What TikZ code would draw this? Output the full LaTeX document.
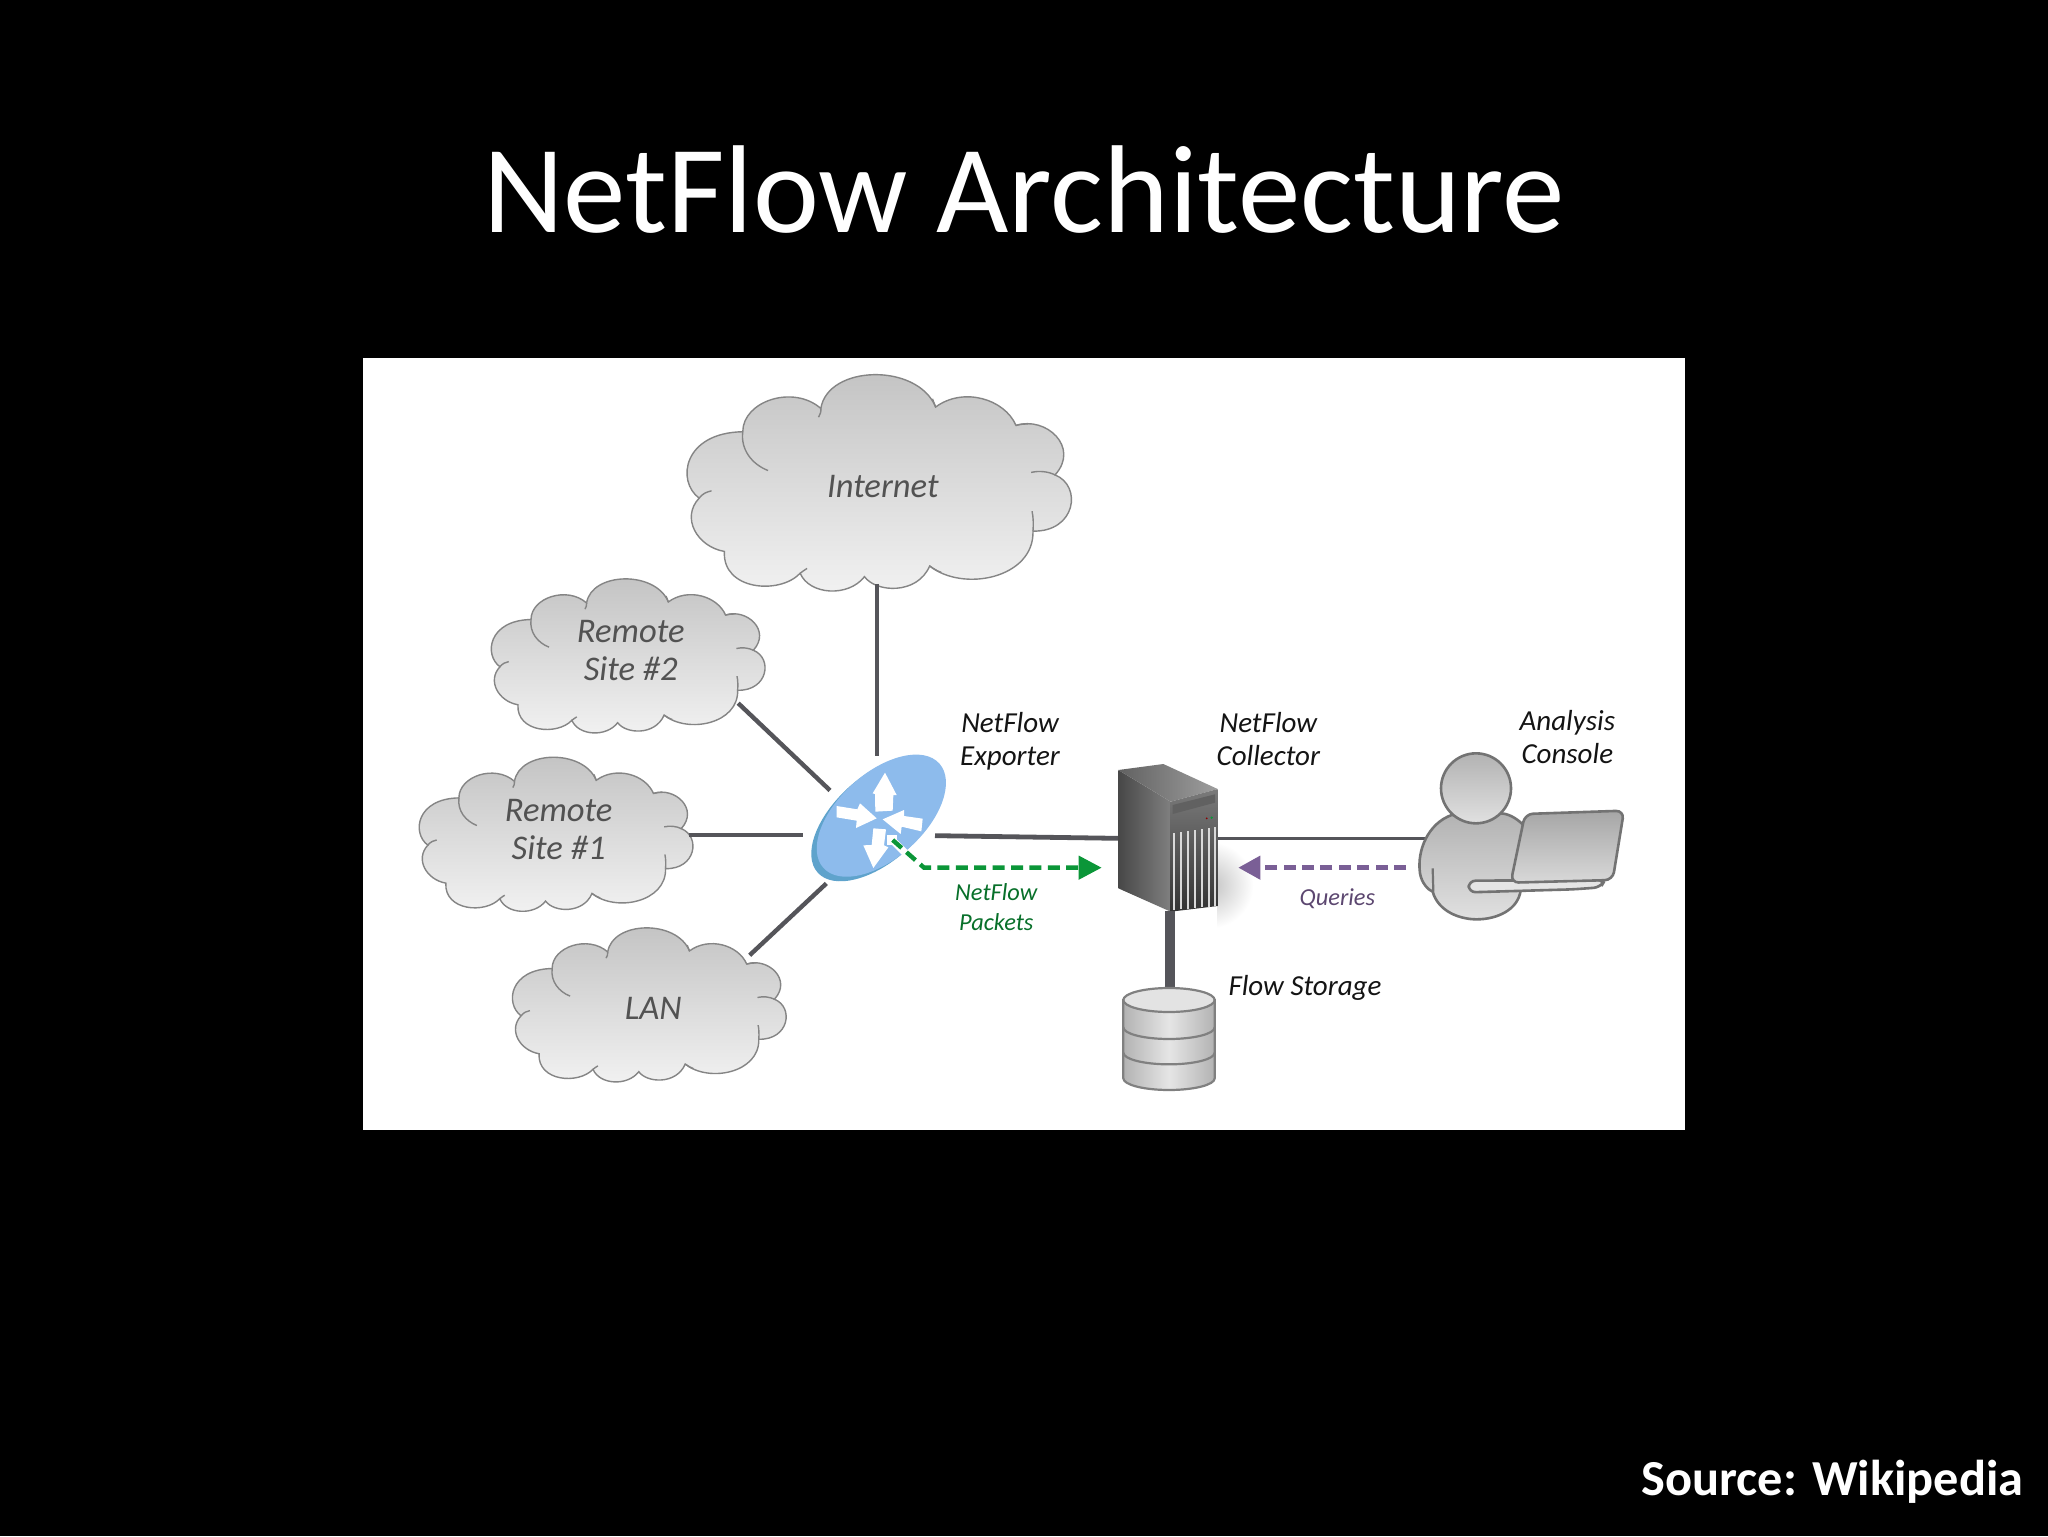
\documentclass[tikz,border=0pt]{standalone}
\usepackage{fontspec}
\setmainfont{Carlito}
\usetikzlibrary{arrows.meta}
\definecolor{conn}{HTML}{55555A}
\definecolor{greenflow}{HTML}{0B9638}
\definecolor{purpleflow}{HTML}{7A5F96}
\definecolor{routerblue}{HTML}{8DBBEC}
\definecolor{routerdark}{HTML}{5FA3CC}
\tikzset{
  x=0.5pt,y=-0.5pt,
  link/.style={draw=conn,line width=2.2pt},
  cloudfill/.style={draw=black!48,line width=0.7pt,top color=black!24,bottom color=black!5},
  cloudline/.style={draw=black!48,line width=0.7pt},
  cloudtext/.style={font=\fontsize{17.3}{19}\selectfont\itshape,text=black!68,align=center,inner sep=0pt},
  devtext/.style={font=\fontsize{14.5}{16.4}\selectfont\itshape,text=black!92,align=center,inner sep=0pt},
  flowtext/.style={font=\fontsize{12.2}{15}\selectfont\itshape,align=center,inner sep=0pt},
  routerarrow/.style={fill=white,draw=none},
  greydev/.style={draw=black!55,line width=1.3pt,top color=black!30,bottom color=black!12},
}
\newcommand{\cloudshape}[3]{%
\begin{scope}[shift={(#1,#2)},scale=#3,shift={(-668,-28)}]
\path[cloudfill] (790,148)
 .. controls (790,85) and (900,50) .. (960,100)
 .. controls (975,10) and (1170,5) .. (1210,97)
 .. controls (1270,55) and (1360,80) .. (1385,135)
 .. controls (1450,115) and (1525,180) .. (1470,237)
 .. controls (1530,260) and (1515,355) .. (1422,353)
 .. controls (1425,450) and (1270,480) .. (1197,425)
 .. controls (1170,485) and (1080,480) .. (1055,447)
 .. controls (1020,490) and (935,485) .. (915,440)
 .. controls (870,485) and (745,475) .. (750,395)
 .. controls (690,385) and (655,325) .. (695,285)
 .. controls (645,250) and (660,150) .. (790,148) -- cycle;
\draw[cloudline] (790,148) .. controls (785,185) and (810,215) .. (845,228);
\draw[cloudline] (695,285) .. controls (703,275) and (712,272) .. (722,270);
\draw[cloudline] (1470,237) .. controls (1455,230) and (1435,228) .. (1418,232);
\draw[cloudline] (1385,135) .. controls (1395,132) and (1405,132) .. (1412,132);
\draw[cloudline] (1422,353) .. controls (1423,340) and (1423,325) .. (1420,312);
\draw[cloudline] (915,440) .. controls (920,436) and (925,433) .. (930,430);
\draw[cloudline] (1197,425) .. controls (1205,430) and (1212,435) .. (1222,438);
\draw[cloudline] (960,100) .. controls (961,108) and (958,112) .. (955,118);
\draw[cloudline] (1210,97) .. controls (1208,92) and (1205,85) .. (1203,80);
\end{scope}}
\begin{document}
\begin{tikzpicture}
\useasboundingbox (0,0) rectangle (2048,1536);
\fill[black] (0,0) rectangle (2048,1536);
\node[anchor=base,text=white,inner sep=0pt,font=\fontsize{62.5}{70}\selectfont] (title) at (1024,232) {NetFlow Architecture};
\node[anchor=base east,text=white,inner sep=0pt,font=\fontsize{25.2}{28}\selectfont\bfseries] (source) at (2024,1495) {Source: Wikipedia};
\fill[white] (363,358) rectangle (1685,1130);

% zoom-1 frame: clouds and router links
\begin{scope}[shift={(380,360)},xscale=0.4592,yscale=0.4847]
\cloudshape{668}{28}{1}
\cloudshape{242}{450}{.712}
\cloudshape{85}{818}{.712}
\cloudshape{288}{1170}{.712}
\node[cloudtext] (internet) at (1095,262) {Internet};
\node[cloudtext] (site2) at (546,599) {Remote\\Site \#2};
\node[cloudtext] (site1) at (389,969) {Remote\\Site \#1};
\node[cloudtext] (lan) at (595,1338) {LAN};
\coordinate (inetend) at (1082,462);
\coordinate (rtop) at (1082,818);
\coordinate (s2end) at (780,708);
\coordinate (rul) at (980,888);
\coordinate (s1end) at (672,980);
\coordinate (rl) at (922,980);
\coordinate (lanend) at (805,1228);
\coordinate (rll) at (972,1080);
\node[devtext] (exporter) at (1372,786) {NetFlow\\Exporter};
\node[flowtext,text=greenflow!75!black] (packets) at (1342,1129) {NetFlow\\Packets};
\end{scope}

\draw[link] (inetend) -- (rtop);
\draw[link] (s2end) -- (rul);
\draw[link] (s1end) -- (rl);
\draw[link] (lanend) -- (rll);

% zoom-2 frame: router, server, storage
\begin{scope}[shift={(780,690)},scale=1/3]
% router
\fill[routerdark] (293,386) ellipse[x radius=242,y radius=128,rotate=42];
\fill[routerblue] (304,377) ellipse[x radius=234,y radius=128,rotate=42];
\node[inner sep=0pt,minimum size=0pt] (router) at (295,385) {};
% arrows in router
\fill[routerarrow] (286,365) -- (285,312) -- (278,310) -- (315,248) -- (350,315) -- (340,315) -- (338,362) -- cycle;
\fill[routerarrow] (170,348) -- (232,358) -- (240,340) -- (290,385) -- (228,414) -- (230,392) -- (170,382) -- cycle;
\fill[routerarrow] (428,386) -- (372,378) -- (372,360) -- (308,388) -- (362,432) -- (365,410) -- (424,424) -- cycle;
\fill[routerarrow] (280,415) -- (275,465) -- (250,466) -- (280,534) -- (325,472) -- (312,466) -- (318,418) -- cycle;
% links
\coordinate (rright) at (465,437);
\coordinate (srvleft) at (1015,445);
\draw[link,line width=2.4pt] (rright) -- (srvleft);
% server shadow
\begin{scope}
\clip (1313,440) rectangle (1440,730);
\shade[inner color=black!24,outer color=white] (1290,585) circle (130);
\end{scope}
% server
\coordinate (srvbot) at (1170,662);
\shade[left color=black!72,right color=black!50] (1015,240) -- (1172,335) -- (1172,665) -- (1015,595) -- cycle;
\shade[left color=black!62,right color=black!38] (1015,240) -- (1150,222) -- (1313,297) -- (1172,335) -- cycle;
\shade[top color=black!52,bottom color=black!80] (1172,335) -- (1313,297) -- (1313,648) -- (1172,665) -- cycle;
\fill[black!62] (1178,345) -- (1305,313) -- (1305,338) -- (1178,372) -- cycle;
\foreach \xs in {1183,1204,1225,1246,1267,1288,1306}{
  \draw[white!85!black,line width=1pt] (\xs,{430-(\xs-1183)*.15}) -- (\xs,{660-(\xs-1183)*.1});
}
\fill[greenflow] (1295,383) circle (4);
\fill[red!55!black] (1280,385) circle (3);
% storage link
\coordinate (stotop) at (1170,900);
\draw[link,line width=5pt] (srvbot) -- (stotop);
% storage
\shade[left color=black!30,right color=black!30,middle color=black!10,draw=black!50,line width=1.1pt]
  (1030,930) -- (1030,1165) arc[start angle=180,end angle=0,x radius=137,y radius=35] -- (1304,930) -- cycle;
\draw[black!50,line width=1.1pt] (1030,1012) arc[start angle=180,end angle=0,x radius=137,y radius=35];
\draw[black!50,line width=1.1pt] (1030,1088) arc[start angle=180,end angle=0,x radius=137,y radius=35];
\draw[black!50,line width=1.1pt,fill=black!11] (1167,930) ellipse[x radius=137,y radius=36];
% green flow
\draw[white,line width=3.6pt] (335,448) -- (380,493);
\fill[white] (322,434) rectangle (352,464);
\coordinate (gstart) at (338,450);
\coordinate (gelbow) at (432,533);
\coordinate (gend) at (965,533);
\draw[greenflow,line width=2.2pt,dash pattern=on 6pt off 3.2pt,-{Triangle[length=11.5pt,width=11.5pt]}] (gstart) -- (gelbow) -- (gend);
\end{scope}

% zoom-3 frame: collector labels, console
\begin{scope}[shift={(1180,690)},scale=1/3]
\node[devtext] (collector) at (265,147) {NetFlow\\Collector};
\node[devtext] (analysis) at (1162,142) {Analysis\\Console};
\node[devtext,anchor=center] (storage) at (375,893) {Flow Storage};
\node[flowtext,text=purpleflow!75!black] (queries) at (472,626) {Queries};
\coordinate (srvright) at (115,445);
\coordinate (perleft) at (745,445);
\draw[link,line width=1.7pt] (srvright) -- (perleft);
% purple
\coordinate (qstart) at (678,533);
\coordinate (qend) at (175,533);
\draw[purpleflow,line width=2.2pt,dash pattern=on 6pt off 3.2pt,-{Triangle[length=11pt,width=11.5pt]}] (qstart) -- (qend);
% person
\path[greydev] (815,375) .. controls (745,400) and (710,480) .. (720,550)
  .. controls (725,580) and (745,600) .. (758,605)
  .. controls (775,665) and (840,688) .. (890,688)
  .. controls (950,688) and (1015,660) .. (1022,600)
  -- (1030,405) .. controls (1010,385) and (985,370) .. (960,370) -- cycle;
\draw[black!55,line width=1.1pt] (758,535) -- (760,605);
\path[greydev] (888,295) circle (105);
\path[draw=black!55,line width=1.3pt,fill=black!10,rounded corners=3.5pt] (866,572) -- (1275,570) -- (1262,592) -- (1180,598) -- (866,607) -- cycle;
\path[greydev,rounded corners=4pt,top color=black!35,bottom color=black!15] (1035,372) -- (1332,362) -- (1298,570) -- (992,578) -- cycle;
\end{scope}
\end{tikzpicture}
\end{document}
